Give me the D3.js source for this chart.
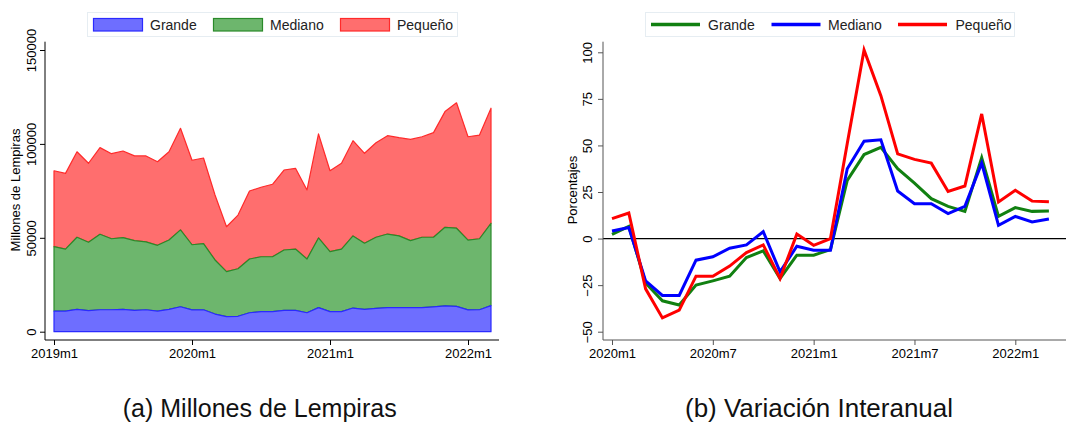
<!DOCTYPE html>
<html><head><meta charset="utf-8">
<script src="https://cdn.jsdelivr.net/npm/d3@7"></script>
<style>
html,body{margin:0;padding:0;background:#fff;}
svg{display:block;font-family:"Liberation Sans",Arial,sans-serif;}
</style></head>
<body><svg id="c" width="1068" height="423"></svg>
<script>
// ---------- Data: left panel (Millones de Lempiras), 2019m1 .. 2022m3 ----------
const monthsA = ["2019m1","2019m2","2019m3","2019m4","2019m5","2019m6","2019m7","2019m8","2019m9","2019m10","2019m11","2019m12",
 "2020m1","2020m2","2020m3","2020m4","2020m5","2020m6","2020m7","2020m8","2020m9","2020m10","2020m11","2020m12",
 "2021m1","2021m2","2021m3","2021m4","2021m5","2021m6","2021m7","2021m8","2021m9","2021m10","2021m11","2021m12",
 "2022m1","2022m2","2022m3"];
const grandeA = [11000,11000,11900,11200,11700,11700,11900,11400,11700,11000,11900,13300,11600,11700,9400,8000,8200,10100,10700,10700,11400,11400,10100,12800,10700,10700,12600,11900,12400,12800,12800,12800,12800,13200,13700,13500,11600,11700,13900];
const medianoA = [34300,33000,38400,36400,40200,37800,38200,37100,36100,35000,36900,40900,34700,35200,28800,24000,25300,28600,29200,29200,32100,32600,28600,37100,31900,33300,38400,35200,37900,39200,38200,35700,37500,37100,41900,41600,37200,37800,43800];
const pequenoA = [40400,40300,45500,42100,46100,45300,46100,45100,45800,44500,47000,54100,45000,45600,34600,23900,28600,36200,37000,38600,42600,43000,36800,55400,43100,45700,50700,47900,50300,52400,52300,53900,53500,55700,61600,66800,55000,55200,61300];
const yTicksA = [0,50000,100000,150000];
const xTicksA = ["2019m1","2020m1","2021m1","2022m1"];

// ---------- Data: right panel (Variación Interanual), 2020m1 .. 2022m3 ----------
const monthsB = monthsA.slice(12);
const grandeB = [2.3,6.6,-23.8,-33.4,-35.7,-25.0,-22.7,-20.2,-10.2,-6.6,-21.4,-8.9,-8.9,-5.9,31.2,45.1,49.0,37.5,29.8,21.4,17.3,14.6,43.4,11.9,16.6,14.6,14.8];
const medianoB = [4.1,5.9,-22.7,-30.5,-30.5,-11.6,-9.8,-5.2,-3.4,3.7,-17.9,-4.1,-6.3,-6.3,37.5,52.3,53.0,25.5,18.7,18.7,13.4,17.3,40.5,7.1,11.9,8.9,10.5];
const pequenoB = [10.7,13.7,-27.0,-42.6,-38.4,-20.2,-20.2,-14.8,-7.5,-3.4,-21.4,2.4,-3.6,0.0,51.0,101.2,76.7,45.5,42.5,40.5,25.3,28.2,66.9,19.6,25.9,20.1,19.8];
const yTicksB = [-50,-25,0,25,50,75,100];
const xTicksB = ["2020m1","2020m7","2021m1","2021m7","2022m1"];

const seriesNames = ["Grande","Mediano","Pequeño"];

const svg = d3.select("#c");

// ================= LEFT PANEL =================
(function(){
  const g = svg.append("g");
  const x = d3.scaleLinear().domain([0, 36]).range([54, 468]);
  const y = d3.scaleLinear().domain([0, 150000]).range([331.7, 50]);
  const rows = monthsA.map((m,i)=>({i, Grande:grandeA[i], Mediano:medianoA[i], "Pequeño":pequenoA[i]}));
  const stacked = d3.stack().keys(seriesNames)(rows);
  const fills = ["#6e6eff","#6db66d","#ff6e6e"];
  const strokes = ["#2a2aff","#2a8a2a","#ff2a2a"];
  const area = d3.area().x(d=>x(d.data.i)).y0(d=>y(d[0])).y1(d=>y(d[1]));
  for (let k = stacked.length-1; k >= 0; k--) {
    g.append("path").datum(stacked[k]).attr("d", area)
      .attr("fill", fills[k]).attr("stroke", strokes[k]).attr("stroke-width", 1.2).attr("stroke-linejoin","round");
  }
  const ya = g.append("g").attr("transform","translate(45,0)")
    .call(d3.axisLeft(y).tickValues(yTicksA).tickSize(5).tickPadding(4).tickFormat(d3.format("d")));
  ya.select(".domain").attr("d","M0,41.7V340").attr("stroke","#000");
  ya.selectAll(".tick line").attr("stroke","#000");
  ya.selectAll(".tick text").style("font-size","13px").attr("fill","#000")
    .attr("x",null).attr("dy",null)
    .attr("transform","translate(-14,0) rotate(-90)").attr("text-anchor","middle").attr("dominant-baseline","central");
  const xa = g.append("g").attr("transform","translate(0,340)")
    .call(d3.axisBottom(x).tickValues(xTicksA.map(t=>monthsA.indexOf(t))).tickSize(5).tickPadding(4)
      .tickFormat(i=>monthsA[i]));
  xa.select(".domain").attr("d","M45,0H499").attr("stroke","#000");
  xa.selectAll(".tick line").attr("stroke","#000");
  xa.selectAll(".tick text").style("font-size","13px").attr("fill","#000");
  g.append("text").attr("transform","translate(15,190) rotate(-90)").attr("text-anchor","middle")
    .attr("dominant-baseline","central").style("font-size","13px").text("Millones de Lempiras");
  const lg = g.append("g");
  lg.append("rect").attr("x",87.5).attr("y",12.5).attr("width",370).attr("height",24)
    .attr("fill","#fff").attr("stroke","#e6edf2");
  const sx = [93,213,340], tx=[150,270,397];
  seriesNames.forEach((n,k)=>{
    lg.append("rect").attr("x",sx[k]+0.5).attr("y",18.5).attr("width",49).attr("height",12.5)
      .attr("fill",fills[k]).attr("stroke",strokes[k]).attr("stroke-width",1.2);
    lg.append("text").attr("x",tx[k]).attr("y",24.5).attr("dominant-baseline","central")
      .style("font-size","14px").attr("fill","#222").text(n);
  });
})();

// ================= RIGHT PANEL =================
(function(){
  const g = svg.append("g");
  const x = d3.scaleLinear().domain([0, 24]).range([612, 1015.3]);
  const y = d3.scaleLinear().domain([-50, 100]).range([331.7, 52.3]);
  const colors = ["#118011","#0000ff","#ff0000"];
  const vals = [grandeB, medianoB, pequenoB];
  g.append("line").attr("x1",603).attr("x2",1066).attr("y1",y(0)).attr("y2",y(0))
    .attr("stroke","#000").attr("stroke-width",1.2);
  const line = d3.line().x((d,i)=>x(i)).y(d=>y(d));
  vals.forEach((v,k)=>{
    g.append("path").datum(v).attr("d",line).attr("fill","none")
      .attr("stroke",colors[k]).attr("stroke-width",3).attr("stroke-linejoin","miter");
  });
  const ya = g.append("g").attr("transform","translate(603,0)")
    .call(d3.axisLeft(y).tickValues(yTicksB).tickSize(5).tickPadding(4));
  ya.select(".domain").attr("d","M0,41.7V340").attr("stroke","#555");
  ya.selectAll(".tick line").attr("stroke","#555");
  ya.selectAll(".tick text").style("font-size","13px").attr("fill","#000")
    .attr("x",null).attr("dy",null)
    .attr("transform","translate(-16,0) rotate(-90)").attr("text-anchor","middle").attr("dominant-baseline","central");
  const xa = g.append("g").attr("transform","translate(0,340)")
    .call(d3.axisBottom(x).tickValues(xTicksB.map(t=>monthsB.indexOf(t))).tickSize(5).tickPadding(4)
      .tickFormat(i=>monthsB[i]));
  xa.select(".domain").attr("d","M603,0H1066").attr("stroke","#555");
  xa.selectAll(".tick line").attr("stroke","#555");
  xa.selectAll(".tick text").style("font-size","13px").attr("fill","#000");
  g.append("text").attr("transform","translate(572,190) rotate(-90)").attr("text-anchor","middle")
    .attr("dominant-baseline","central").style("font-size","13px").text("Porcentajes");
  const lg = g.append("g");
  lg.append("rect").attr("x",645.5).attr("y",12.5).attr("width",369).attr("height",24)
    .attr("fill","#fff").attr("stroke","#e6edf2");
  const sx=[651,771.5,898], tx=[708,828,955.5];
  seriesNames.forEach((n,k)=>{
    lg.append("line").attr("x1",sx[k]).attr("x2",sx[k]+49).attr("y1",24.5).attr("y2",24.5)
      .attr("stroke",colors[k]).attr("stroke-width",3.5);
    lg.append("text").attr("x",tx[k]).attr("y",24.5).attr("dominant-baseline","central")
      .style("font-size","14px").attr("fill","#222").text(n);
  });
})();

// ================= CAPTIONS =================
svg.append("text").attr("x",122.7).attr("y",417)
  .style("font-family","'Liberation Sans',Arial,sans-serif").style("font-size","25px").attr("fill","#111")
  .attr("textLength",274).attr("lengthAdjust","spacingAndGlyphs")
  .text("(a) Millones de Lempiras");
svg.append("text").attr("x",685).attr("y",417)
  .style("font-family","'Liberation Sans',Arial,sans-serif").style("font-size","25px").attr("fill","#111")
  .attr("textLength",268).attr("lengthAdjust","spacingAndGlyphs")
  .text("(b) Variación Interanual");
</script></body></html>
